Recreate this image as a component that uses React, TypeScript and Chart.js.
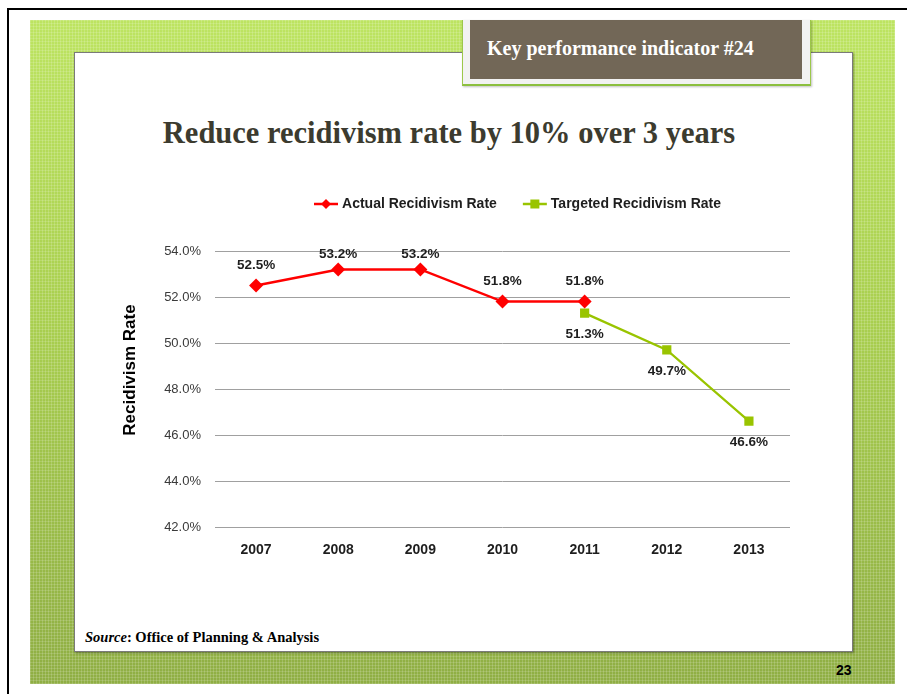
import React, { useEffect, useRef } from "react";
import { Chart, registerables } from "chart.js";

Chart.register(...registerables);

const years = ["2007", "2008", "2009", "2010", "2011", "2012", "2013"];
const actualRate = [52.5, 53.2, 53.2, 51.8, 51.8, null, null];
const targetedRate = [null, null, null, null, 51.3, 49.7, 46.6];
const yMin = 42;
const yMax = 54;
const yStep = 2;
const seriesNames = ["Actual Recidivism Rate", "Targeted Recidivism Rate"];
const yTitle = "Recidivism Rate";

const RED = "#ff0000";
const GREEN = "#99c400";
const SANS = "'Liberation Sans', Arial, sans-serif";
const SERIF = "'Liberation Serif', 'Times New Roman', serif";

function drawMarker(ctx: CanvasRenderingContext2D, style: string, x: number, y: number, color: string) {
  ctx.save();
  ctx.fillStyle = color;
  ctx.beginPath();
  if (style === "diamond") {
    const s = 5;
    ctx.moveTo(x, y - s);
    ctx.lineTo(x + s, y);
    ctx.lineTo(x, y + s);
    ctx.lineTo(x - s, y);
    ctx.closePath();
  } else {
    const s = 4.5;
    ctx.rect(x - s, y - s, 2 * s, 2 * s);
  }
  ctx.fill();
  ctx.restore();
}

const extrasPlugin = {
  id: "extras",
  afterDatasetsDraw(chart: any) {
    const ctx: CanvasRenderingContext2D = chart.ctx;
    const area = chart.chartArea;
    // data labels
    ctx.save();
    ctx.font = `bold 13.5px ${SANS}`;
    ctx.fillStyle = "#1e1e1e";
    ctx.textAlign = "center";
    ctx.textBaseline = "middle";
    chart.data.datasets.forEach((ds: any, di: number) => {
      const meta = chart.getDatasetMeta(di);
      meta.data.forEach((pt: any, i: number) => {
        const v = ds.data[i];
        if (v === null || v === undefined) return;
        let y = di === 0 ? pt.y - 20 : pt.y + 21;
        if (y < area.top + 3) y = area.top + 3;
        ctx.fillText(v.toFixed(1) + "%", pt.x, y);
      });
    });
    ctx.restore();

    // legend
    ctx.save();
    ctx.font = `bold 14px ${SANS}`;
    ctx.textBaseline = "middle";
    ctx.textAlign = "left";
    const lineW = 24;
    const gapText = 4;
    const gapItem = 26;
    const w0 = ctx.measureText(seriesNames[0]).width;
    const w1 = ctx.measureText(seriesNames[1]).width;
    const total = lineW + gapText + w0 + gapItem + lineW + gapText + w1;
    const cx = (area.left + area.right) / 2 + 15;
    const ly = area.top - 47;
    let x = cx - total / 2;
    const items = [
      { name: seriesNames[0], color: RED, marker: "diamond", w: w0 },
      { name: seriesNames[1], color: GREEN, marker: "square", w: w1 },
    ];
    items.forEach((it) => {
      ctx.strokeStyle = it.color;
      ctx.lineWidth = 2.5;
      ctx.beginPath();
      ctx.moveTo(x, ly);
      ctx.lineTo(x + lineW, ly);
      ctx.stroke();
      drawMarker(ctx, it.marker, x + lineW / 2, ly, it.color);
      ctx.fillStyle = "#1e1e1e";
      ctx.fillText(it.name, x + lineW + gapText, ly);
      x += lineW + gapText + it.w + gapItem;
    });
    ctx.restore();

    // y axis title
    ctx.save();
    ctx.font = `bold 17px ${SANS}`;
    ctx.fillStyle = "#000000";
    ctx.textAlign = "center";
    ctx.textBaseline = "middle";
    ctx.translate(area.left - 85, area.top + 119);
    ctx.rotate(-Math.PI / 2);
    ctx.fillText(yTitle, 0, 0);
    ctx.restore();
  },
};

function RateChart() {
  const ref = useRef<HTMLCanvasElement | null>(null);
  useEffect(() => {
    if (!ref.current) return;
    const chart = new Chart(ref.current, {
      type: "line",
      data: {
        labels: years,
        datasets: [
          {
            label: seriesNames[0],
            data: actualRate,
            borderColor: RED,
            backgroundColor: RED,
            borderWidth: 2.5,
            pointStyle: "rectRot",
            pointRadius: 7,
            pointHoverRadius: 7,
            pointBorderWidth: 0,
            spanGaps: false,
            tension: 0,
          },
          {
            label: seriesNames[1],
            data: targetedRate,
            borderColor: GREEN,
            backgroundColor: GREEN,
            borderWidth: 2.25,
            pointStyle: "rect",
            pointRadius: 6.5,
            pointHoverRadius: 6.5,
            pointBorderWidth: 0,
            spanGaps: false,
            tension: 0,
          },
        ],
      },
      options: {
        responsive: false,
        animation: false,
        layout: { padding: { left: 10, right: 10, top: 71, bottom: 0 } },
        plugins: {
          legend: { display: false },
          title: { display: false },
          tooltip: { enabled: false },
        },
        scales: {
          x: {
            type: "category",
            offset: true,
            grid: { display: false, drawTicks: false },
            border: { display: false },
            ticks: {
              font: { family: SANS, size: 14, weight: "bold" },
              color: "#1e1e1e",
              padding: 15,
              maxRotation: 0,
            },
            afterFit: (scale: any) => {
              scale.height = 40;
            },
          },
          y: {
            min: yMin,
            max: yMax,
            grid: { color: "#a0a0a0", lineWidth: 1, drawTicks: false },
            border: { display: false },
            ticks: {
              stepSize: yStep,
              font: { family: SANS, size: 13 },
              color: "#3a3a3a",
              padding: 14,
              callback: (v: any) => Number(v).toFixed(1) + "%",
            },
            afterFit: (scale: any) => {
              scale.width = 95;
            },
          },
        },
      },
      plugins: [extrasPlugin],
    });
    return () => chart.destroy();
  }, []);
  return (
    <canvas
      ref={ref}
      width={690}
      height={387}
      style={{ position: "absolute", left: 110, top: 180, width: 690, height: 387 }}
    />
  );
}

export default function App() {
  const texture =
    "repeating-linear-gradient(90deg, rgba(255,255,255,0.16) 0px, rgba(255,255,255,0.16) 1px, rgba(0,0,0,0) 1px, rgba(0,0,0,0) 3px)," +
    "repeating-linear-gradient(0deg, rgba(255,255,255,0.14) 0px, rgba(255,255,255,0.14) 1px, rgba(0,0,0,0) 1px, rgba(0,0,0,0) 3px)," +
    "linear-gradient(180deg, #bde461 0%, #a9cf4f 45%, #8fae44 100%)";
  return (
    <div style={{ position: "absolute", left: 0, top: 0, width: 907, height: 694, overflow: "hidden", background: "#ffffff" }}>
      <div style={{ position: "absolute", left: 7, top: 8, width: 900, height: 2, background: "#000" }} />
      <div style={{ position: "absolute", left: 7, top: 8, width: 2, height: 686, background: "#000" }} />
      <div style={{ position: "absolute", left: 30, top: 20, width: 865, height: 664, background: texture }} />
      <div
        style={{
          position: "absolute",
          left: 74,
          top: 52,
          width: 777,
          height: 598,
          background: "#ffffff",
          border: "1px solid #7a7a7a",
          boxShadow: "1px 1px 2px rgba(0,0,0,0.35)",
        }}
      />
      <div
        style={{
          position: "absolute",
          left: 462,
          top: 20,
          width: 347,
          height: 64,
          background: "#f2f2f2",
          borderLeft: "1px solid #9cc74a",
          borderRight: "1px solid #9cc74a",
          borderBottom: "2px solid #8cbf3f",
          boxShadow: "1px 1px 2px rgba(0,0,0,0.25)",
        }}
      />
      <div
        style={{
          position: "absolute",
          left: 470,
          top: 20,
          width: 332,
          height: 59,
          background: "#726757",
        }}
      />
      <div
        style={{
          position: "absolute",
          left: 487,
          top: 36,
          height: 24,
          lineHeight: "24px",
          fontFamily: SERIF,
          fontWeight: "bold",
          fontSize: 20,
          color: "#ffffff",
          whiteSpace: "nowrap",
        }}
      >
        Key performance indicator #24
      </div>
      <div
        style={{
          position: "absolute",
          left: 149,
          top: 114,
          width: 600,
          height: 38,
          lineHeight: "38px",
          textAlign: "center",
          fontFamily: SERIF,
          fontWeight: "bold",
          fontSize: 30.5,
          color: "#3c3b2f",
          whiteSpace: "nowrap",
        }}
      >
        Reduce recidivism rate by 10% over 3 years
      </div>
      <RateChart />
      <div
        style={{
          position: "absolute",
          left: 85,
          top: 628,
          height: 18,
          lineHeight: "18px",
          fontFamily: SERIF,
          fontWeight: "bold",
          fontSize: 14.5,
          color: "#000",
          whiteSpace: "nowrap",
        }}
      >
        <i>Source</i>: Office of Planning &amp; Analysis
      </div>
      <div
        style={{
          position: "absolute",
          left: 836,
          top: 661,
          height: 18,
          lineHeight: "18px",
          fontFamily: SANS,
          fontWeight: "bold",
          fontSize: 14,
          color: "#000",
          whiteSpace: "nowrap",
        }}
      >
        23
      </div>
    </div>
  );
}
